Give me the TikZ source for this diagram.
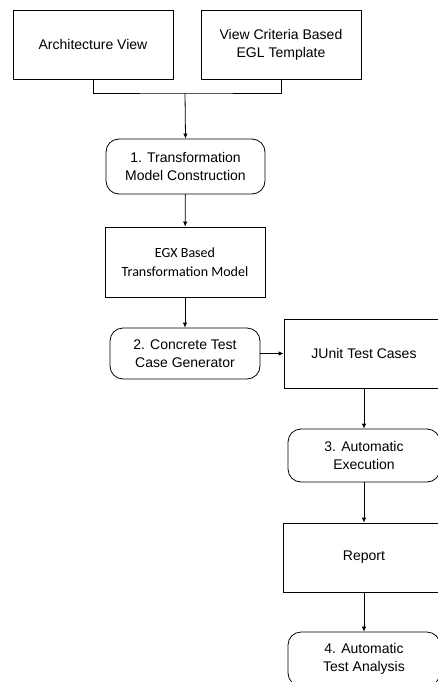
\documentclass[tikz,border=0pt]{standalone}
\usepackage{fontspec}
\setmainfont{Liberation Sans}
\newfontfamily\calibrifont{Carlito}
\usetikzlibrary{arrows.meta}

\tikzset{
	box/.style={draw, line width=0.8pt, minimum width=160pt, minimum height=69pt, align=center, inner sep=0pt},
	roundbox/.style={box, rounded corners=13pt, minimum height=54pt},
	arw/.style={-{Latex[length=5pt,width=4.5pt]}, line width=0.8pt}
}

\begin{document}
\begin{tikzpicture}[x=1pt, y=-1pt, font=\fontsize{14}{18}\selectfont]

		\useasboundingbox (0,0) rectangle (438,682);
		\clip (0,0) rectangle (438,682);

		\node[box] (arch) at (93,44.5) {Architecture View};
		\node[box] (crit) at (281,44.5) {View Criteria Based\\EGL Template};
		\node[roundbox, minimum width=159pt, minimum height=55pt] (trans) at (185.5,166.5) {1. Transformation\\Model Construction};
		\node[box, minimum height=70pt, font=\calibrifont\fontsize{14}{19}\selectfont] (egx) at (185,262) {EGX Based\\Transformation Model};
		\node[roundbox, minimum width=150pt, minimum height=51pt] (gen) at (185,353.5) {2. Concrete Test\\Case Generator};
		\node[box] (junit) at (364,353.5) {JUnit Test Cases};
		\node[roundbox, minimum width=152pt, minimum height=53pt] (exec) at (364,455.5) {3. Automatic\\Execution};
		\node[box, minimum width=162pt] (report) at (364,557.5) {Report};
		\node[roundbox, minimum width=152pt] (analysis) at (364,659) {4. Automatic\\Test Analysis};

		\coordinate (join) at (185,93);
		\draw[line width=0.8pt] (arch.south) |- (join) -| (crit.south);
		\draw[arw] (join) -- (trans.north);
		\draw[arw] (trans) -- (egx);
		\draw[arw] (egx) -- (gen);
		\draw[arw] (gen) -- (junit);
		\draw[arw] (junit) -- (exec);
		\draw[arw] (exec) -- (report);
		\draw[arw] (report) -- (analysis);

	\end{tikzpicture}
\end{document}
